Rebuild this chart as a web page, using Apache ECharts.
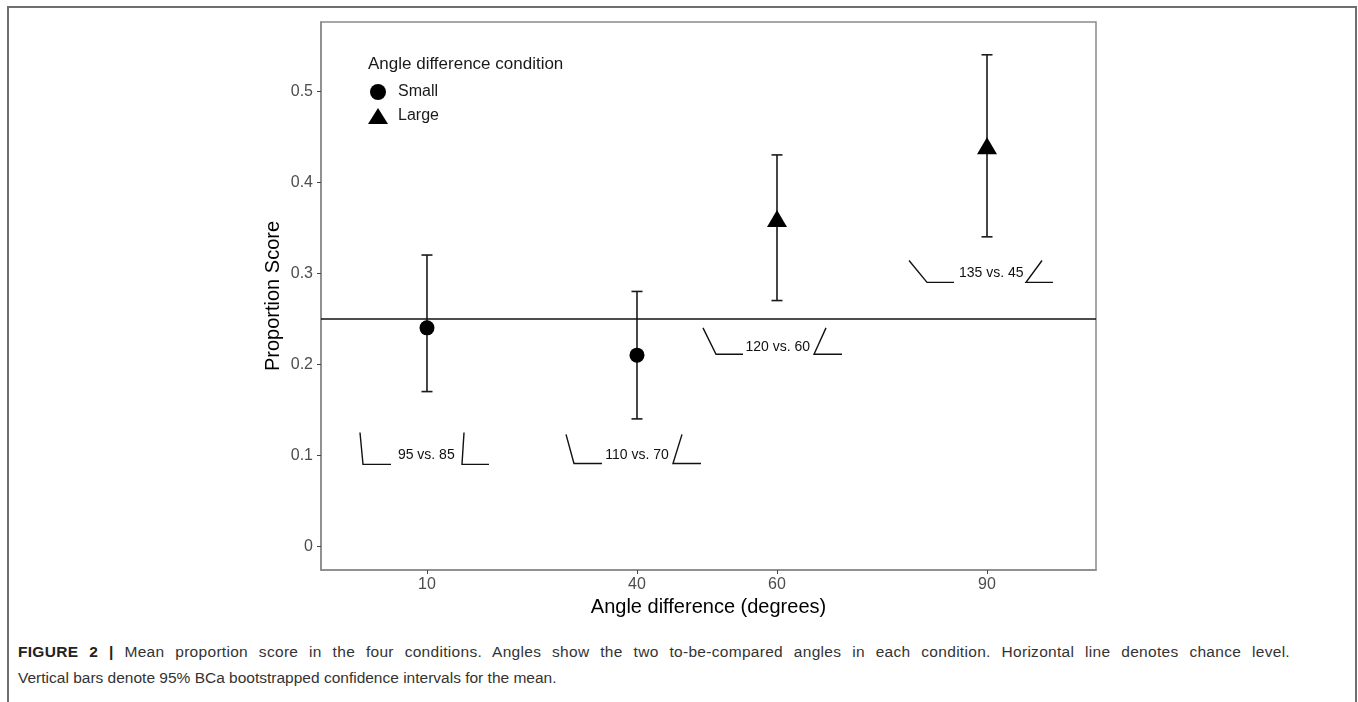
<!DOCTYPE html>
<html>
<head>
<meta charset="utf-8">
<script src="https://cdn.jsdelivr.net/npm/echarts@6/dist/echarts.min.js"></script>
<style>
  html, body { margin: 0; padding: 0; background: #fff; }
  #wrap { position: relative; width: 1358px; height: 702px; overflow: hidden; }
  #frame { position: absolute; left: 7px; top: 6px; width: 1350px; height: 720px;
           border: 2px solid #6f6f6f; box-sizing: border-box; }
  #chart { position: absolute; left: 0; top: 0; width: 1358px; height: 630px; }
  .cap { position: absolute; left: 18px; font-family: "Liberation Sans", Arial, sans-serif;
         font-size: 15.5px; line-height: 26px; color: #333; white-space: nowrap; }
  #cap1 { top: 639px; width: 1272px; text-align: justify; text-align-last: justify; white-space: normal; letter-spacing: 0.3px; }
  #cap2 { top: 665px; }
  .cap b { color: #222; }
</style>
</head>
<body>
<div id="wrap">
  <div id="frame"></div>
  <div id="chart"></div>
  <div class="cap" id="cap1"><b>FIGURE 2 |</b> Mean proportion score in the four conditions. Angles show the two to-be-compared angles in each condition. Horizontal line denotes chance level.</div>
  <div class="cap" id="cap2">Vertical bars denote 95% BCa bootstrapped confidence intervals for the mean.</div>
</div>
<script>
// angle difference conditions (degrees)
const angleDiff = [10, 40, 60, 90]
const condition = ['Small', 'Small', 'Large', 'Large']
const meanScore = [0.24, 0.21, 0.36, 0.44]
const ciLower = [0.17, 0.14, 0.27, 0.34]
const ciUpper = [0.32, 0.28, 0.43, 0.54]
const chanceLevel = 0.25

const xTicks = [10, 40, 60, 90]
const yTicks = [0, 0.1, 0.2, 0.3, 0.4, 0.5]

// angle pictograms under/over each condition
const glyphLabels = ['95 vs. 85', '110 vs. 70', '120 vs. 60', '135 vs. 45']
const glyphTextX = [9.9, 40, 60.1, 90.6]
const glyphTextY = [0.1, 0.1, 0.219, 0.3]
const glyphBaseY = [0.09, 0.091, 0.211, 0.29]
const glyphTopY = [0.125, 0.123, 0.24, 0.314]
// [arm tip x, vertex x, base end x]
const leftGlyphX = [[0.43, 0.86, 4.86], [29.86, 31.0, 35.0], [49.43, 51.29, 55.14], [78.86, 81.43, 85.29]]
const rightGlyphX = [[15.29, 15.0, 18.86], [46.43, 45.14, 49.14], [67.0, 65.29, 69.29], [97.86, 95.57, 99.43]]

const font = '"Liberation Sans", Arial, sans-serif'
const chart = echarts.init(document.getElementById('chart'))

const glyphData = []
glyphLabels.forEach((_, i) => {
  ;[leftGlyphX[i], rightGlyphX[i]].forEach(g => {
    glyphData.push([g[0], glyphTopY[i], g[1], glyphBaseY[i], g[2], glyphBaseY[i]])
  })
})

const pointsOf = name => angleDiff
  .map((x, i) => (condition[i] === name ? [x, meanScore[i]] : null))
  .filter(d => d)

const axisLine = { show: true, onZero: false, lineStyle: { color: '#8a8a8a', width: 1.5 } }

const option = {
  animation: false,
  title: {
    text: 'Angle difference condition',
    left: 363,
    top: 51,
    textStyle: { fontFamily: font, fontSize: 17, fontWeight: 'normal', color: '#1a1a1a' }
  },
  legend: {
    orient: 'vertical',
    left: 363,
    top: 79,
    itemWidth: 20,
    itemHeight: 16,
    itemGap: 8,
    data: [
      { name: 'Small', icon: 'circle' },
      { name: 'Large', icon: 'triangle' }
    ],
    textStyle: { fontFamily: font, fontSize: 16, color: '#1a1a1a', padding: [0, 0, 0, 5] }
  },
  grid: {
    left: 321,
    top: 22,
    width: 775,
    height: 548,
    show: true,
    borderColor: '#8a8a8a',
    borderWidth: 1.5
  },
  xAxis: {
    type: 'value',
    min: -5.14,
    max: 105.57,
    name: 'Angle difference (degrees)',
    nameLocation: 'middle',
    nameGap: 25,
    nameTextStyle: { fontFamily: font, fontSize: 20, color: '#000', verticalAlign: 'top' },
    axisLine: axisLine,
    splitLine: { show: false },
    axisTick: { show: true, length: 4, customValues: xTicks, lineStyle: { color: '#444' } },
    axisLabel: { customValues: xTicks, margin: 7, fontFamily: font, fontSize: 16, color: '#4d4d4d' }
  },
  yAxis: {
    type: 'value',
    min: -0.026,
    max: 0.576,
    name: 'Proportion Score',
    nameLocation: 'middle',
    nameGap: 38,
    nameMoveOverlap: false,
    nameTextStyle: { fontFamily: font, fontSize: 20, color: '#000' },
    axisLine: axisLine,
    splitLine: { show: false },
    axisTick: { show: true, length: 4, customValues: yTicks, lineStyle: { color: '#444' } },
    axisLabel: {
      customValues: yTicks, margin: 8, fontFamily: font, fontSize: 16, color: '#4d4d4d',
      formatter: v => String(Math.round(v * 10) / 10)
    }
  },
  series: [
    {
      type: 'line',
      silent: true,
      data: [],
      markLine: {
        symbol: 'none',
        silent: true,
        label: { show: false },
        lineStyle: { color: '#111', width: 1.5, type: 'solid' },
        data: [{ yAxis: chanceLevel }]
      }
    },
    {
      type: 'custom',
      name: 'glyphs',
      silent: true,
      data: glyphData,
      renderItem: (params, api) => {
        const a = api.coord([api.value(0), api.value(1)])
        const b = api.coord([api.value(2), api.value(3)])
        const c = api.coord([api.value(4), api.value(5)])
        return {
          type: 'polyline',
          shape: { points: [a, b, c] },
          style: { stroke: '#111', lineWidth: 1.4, fill: null }
        }
      }
    },
    {
      type: 'custom',
      name: 'glyphText',
      silent: true,
      data: glyphTextX.map((x, i) => [x, glyphTextY[i]]),
      renderItem: (params, api) => {
        const p = api.coord([api.value(0), api.value(1)])
        return {
          type: 'text',
          x: p[0],
          y: p[1],
          style: {
            text: glyphLabels[params.dataIndex],
            align: 'center',
            verticalAlign: 'middle',
            fontFamily: font,
            fontSize: 14,
            fill: '#111'
          }
        }
      }
    },
    {
      type: 'custom',
      name: 'ci',
      silent: true,
      z: 2,
      data: angleDiff.map((x, i) => [x, ciLower[i], ciUpper[i]]),
      renderItem: (params, api) => {
        const lo = api.coord([api.value(0), api.value(1)])
        const hi = api.coord([api.value(0), api.value(2)])
        const w = 5.5
        const st = { stroke: '#1a1a1a', lineWidth: 1.6 }
        return {
          type: 'group',
          children: [
            { type: 'line', shape: { x1: lo[0], y1: lo[1], x2: hi[0], y2: hi[1] }, style: st },
            { type: 'line', shape: { x1: lo[0] - w, y1: lo[1], x2: lo[0] + w, y2: lo[1] }, style: st },
            { type: 'line', shape: { x1: hi[0] - w, y1: hi[1], x2: hi[0] + w, y2: hi[1] }, style: st }
          ]
        }
      }
    },
    {
      type: 'scatter',
      name: 'Small',
      symbol: 'circle',
      symbolSize: 15,
      z: 3,
      itemStyle: { color: '#000', opacity: 1 },
      data: pointsOf('Small')
    },
    {
      type: 'scatter',
      name: 'Large',
      symbol: 'triangle',
      symbolSize: [20, 17],
      z: 3,
      itemStyle: { color: '#000', opacity: 1 },
      data: pointsOf('Large')
    }
  ]
}

chart.setOption(option)
</script>
</body>
</html>
